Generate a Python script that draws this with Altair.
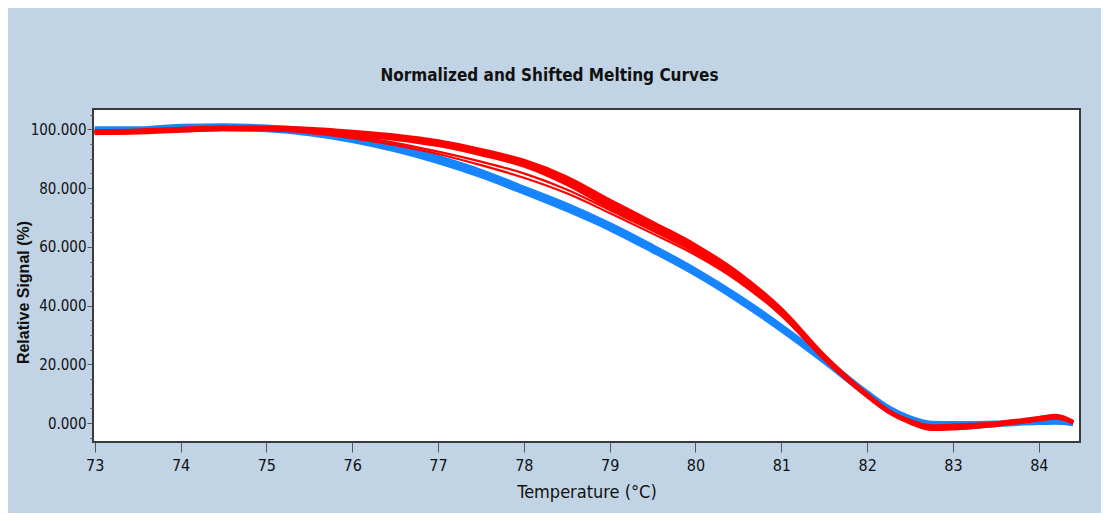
import altair as alt
import pandas as pd

temps = [73.0, 73.5, 74.0, 74.5, 75.0, 75.5, 76.0, 76.5, 77.0, 77.5, 78.0, 78.5, 79.0,
         79.5, 80.0, 80.5, 81.0, 81.5, 82.0, 82.25, 82.5, 82.75, 83.0, 83.5, 84.0, 84.2, 84.4]

blue_1 = [99.5, 99.8, 100.5, 100.8, 100.3, 99.3, 97.0, 93.8, 89.8, 85.0, 79.3, 73.5, 67.0,
          59.5, 51.5, 42.5, 32.5, 21.5, 10.0, 5.0, 1.5, -0.3, -0.5, -0.2, 0.5, 0.6, 0.0]
blue_2 = [98.8, 99.3, 99.8, 100.2, 99.8, 98.5, 96.2, 93.0, 89.0, 84.2, 78.6, 72.7, 66.2,
          58.7, 50.8, 41.8, 31.8, 21.0, 9.7, 4.8, 1.2, -0.8, -1.5, -0.5, 0.2, 0.3, -0.2]
blue_3 = [100.2, 100.2, 101.0, 101.2, 100.8, 99.8, 97.6, 94.4, 90.4, 85.7, 80.0, 74.2, 67.6,
          60.1, 52.1, 43.1, 33.0, 22.0, 10.4, 5.3, 1.8, 0.0, -0.1, 0.1, 0.8, 0.9, 0.2]

red_1 = [99.0, 99.2, 99.8, 100.3, 100.3, 99.8, 98.7, 97.3, 95.3, 92.3, 88.5, 82.5, 74.5,
         67.0, 59.5, 50.0, 38.0, 22.5, 9.5, 4.0, 0.5, -1.5, -1.2, -0.3, 1.5, 2.2, 0.3]
red_2 = [99.4, 99.6, 100.2, 100.6, 100.6, 100.2, 99.2, 97.9, 95.9, 93.0, 89.3, 83.6, 75.8,
         68.2, 60.5, 51.0, 38.8, 23.0, 9.8, 4.2, 0.8, -1.0, -0.8, 0.0, 1.8, 2.5, 0.5]
red_3 = [98.7, 98.9, 99.5, 100.0, 100.0, 99.4, 98.2, 96.7, 94.6, 91.5, 87.6, 81.4, 73.4,
         66.0, 58.6, 49.2, 37.2, 22.0, 9.2, 3.8, 0.2, -2.0, -1.8, -0.6, 1.2, 1.9, 0.1]
red_4 = [99.0, 99.2, 99.7, 100.1, 100.0, 99.2, 97.6, 95.4, 92.4, 89.0, 85.0, 79.5, 72.5,
         65.5, 58.0, 48.8, 37.0, 22.0, 9.4, 4.0, 0.4, -1.6, -1.4, -0.4, 1.2, 1.8, 0.2]
red_5 = [99.0, 99.1, 99.5, 99.8, 99.7, 98.8, 97.0, 94.6, 91.6, 87.8, 83.5, 78.2, 71.5,
         64.5, 57.2, 48.2, 36.6, 21.8, 9.3, 3.9, 0.3, -1.7, -1.5, -0.5, 1.0, 1.6, 0.1]

x_ticks = list(range(73, 85))
y_ticks = [v for v in range(-5, 106, 5)]

NARROW = "Liberation Sans Narrow, DejaVu Sans Condensed, Roboto Condensed, Liberation Sans, sans-serif"

series = [
    ("blue_1", "blue", blue_1), ("blue_2", "blue", blue_2), ("blue_3", "blue", blue_3),
    ("red_1", "red_thick", red_1), ("red_2", "red_thick", red_2), ("red_3", "red_thick", red_3),
    ("red_4", "red_thin", red_4), ("red_5", "red_thin", red_5),
]
rows = []
for name, group, vals in series:
    for t, v in zip(temps, vals):
        rows.append({"curve": name, "group": group, "T": t, "signal": v})
df = pd.DataFrame(rows)

x_enc = alt.X("T:Q", title="Temperature (°C)",
              scale=alt.Scale(domain=[72.98, 84.48], nice=False, zero=False),
              axis=alt.Axis(values=x_ticks, format="d", domain=False, grid=False,
                            tickSize=10, tickColor="#555", labelPadding=5,
                            labelFont=NARROW, labelFontSize=16,
                            labelColor="#111", titleFont=NARROW,
                            titleFontSize=18, titleFontWeight="normal", titleColor="#111",
                            titlePadding=10))
y_enc = alt.Y("signal:Q", title="Relative Signal (%)",
              scale=alt.Scale(domain=[-6.4, 106.9], nice=False, zero=False),
              axis=alt.Axis(values=y_ticks, grid=False, domain=False,
                            labelExpr="datum.value % 20 === 0 ? format(datum.value, '.3f') : ''",
                            tickSize={"condition": {"test": "datum.value % 20 === 0", "value": 6}, "value": 3},
                            tickColor="#555", labelPadding=1,
                            labelFont=NARROW, labelFontSize=15,
                            labelColor="#111", titleFont="Liberation Sans, Arial, sans-serif",
                            titleFontSize=16, titleFontWeight="bold", titleColor="#111",
                            titleX=-70, titleY=183, titleAlign="center",
                            titleBaseline="middle", titleAngle=270))

base = alt.Chart(df)

def layer(group, color, width):
    return base.transform_filter(alt.datum.group == group).mark_line(
        color=color, strokeWidth=width, interpolate="monotone"
    ).encode(x=x_enc, y=y_enc, detail="curve:N")

chart = alt.layer(
    layer("blue", "#1685ff", 5),
    layer("red_thin", "#ff0000", 2.2),
    layer("red_thick", "#ff0000", 4),
).properties(
    width=987, height=333,
    title=alt.TitleParams("Normalized and Shifted Melting Curves",
                          font=NARROW, fontSize=17, fontWeight="bold",
                          color="#111", anchor="middle", dx=-37, offset=24),
    autosize=alt.AutoSizeParams(type="none"),
    padding={"left": 85, "top": 101, "right": 21, "bottom": 71},
    background="#c1d4e5",
).configure_view(fill="white", stroke="#3a3a3a", strokeWidth=2)

chart.save("out.html", embed_options={"renderer": "svg", "actions": False})
